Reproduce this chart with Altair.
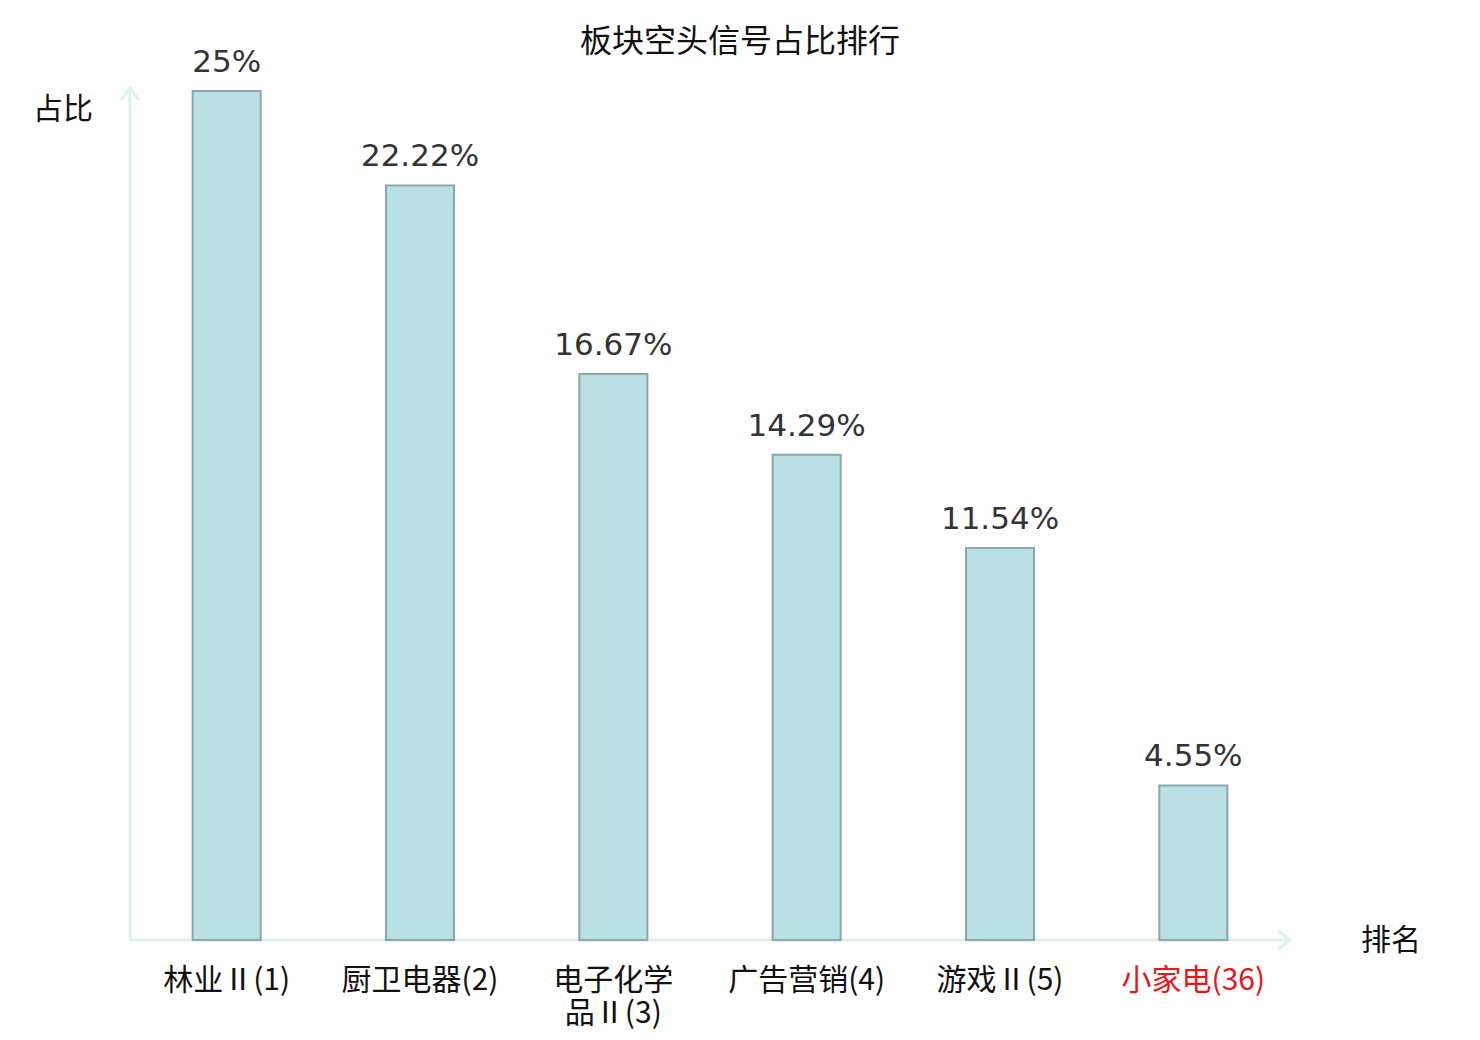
import altair as alt
import pandas as pd

categories = ["林业Ⅱ(1)", "厨卫电器(2)", "电子化学\n品Ⅱ(3)", "广告营销(4)", "游戏Ⅱ(5)", "小家电(36)"]
values = [25, 22.22, 16.67, 14.29, 11.54, 4.55]
value_labels = ["25%", "22.22%", "16.67%", "14.29%", "11.54%", "4.55%"]
highlight = [False, False, False, False, False, True]

title_text = "板块空头信号占比排行"
y_title = "占比"
x_title = "排名"

W, H = 1160, 849
AXIS_COLOR = "#dcf1ee"

df = pd.DataFrame({"cat": categories, "val": values, "lab": value_labels, "hl": highlight})
one = pd.DataFrame({"a": [0]})

xenc = alt.X("cat:N", sort=None, axis=None,
             scale=alt.Scale(paddingInner=0.648, paddingOuter=0.324))
yscale = alt.Scale(domain=[0, 25], nice=False, zero=True)

y_axis_line = alt.Chart(one).mark_rule(color=AXIS_COLOR, strokeWidth=3).encode(
    x=alt.value(0), y=alt.value(-3), y2=alt.value(H))
x_axis_line = alt.Chart(one).mark_rule(color=AXIS_COLOR, strokeWidth=3).encode(
    x=alt.value(0), x2=alt.value(W), y=alt.value(H))
y_arrow = alt.Chart(one).mark_point(shape="M-0.75,1L0,0L0.75,1", filled=False,
                                    stroke=AXIS_COLOR, strokeWidth=3, size=576, opacity=1).encode(
    x=alt.value(0), y=alt.value(-3))
x_arrow = alt.Chart(one).mark_point(shape="M-1,-0.75L0,0L-1,0.75", filled=False,
                                    stroke=AXIS_COLOR, strokeWidth=3, size=576, opacity=1).encode(
    x=alt.value(W), y=alt.value(H))

bars = alt.Chart(df).mark_bar(fill="#bbe0e3", stroke="#8aa7a9", strokeWidth=2).encode(
    x=xenc, y=alt.Y("val:Q", scale=yscale, axis=None))

vlabels = alt.Chart(df).mark_text(font="DejaVu Sans", fontSize=31, color="#333333",
                                  baseline="alphabetic", dy=-19).encode(
    x=xenc, y=alt.Y("val:Q", scale=yscale, axis=None), text="lab:N")

clabels = alt.Chart(df).mark_text(font="Noto Sans CJK SC", fontSize=30, baseline="top",
                                  lineBreak="\n", lineHeight=33).encode(
    x=xenc, y=alt.value(H + 26), text="cat:N",
    color=alt.condition("datum.hl", alt.value("#e8161b"), alt.value("#111111")))

title = alt.Chart(one).mark_text(text=title_text, font="Noto Sans CJK SC", fontSize=32,
                                 color="#111111", baseline="middle").encode(
    x=alt.value(610), y=alt.value(-49))
ytitle = alt.Chart(one).mark_text(text=y_title, font="Noto Sans CJK SC", fontSize=30,
                                  color="#111111", baseline="middle").encode(
    x=alt.value(-67), y=alt.value(19))
xtitle = alt.Chart(one).mark_text(text=x_title, font="Noto Sans CJK SC", fontSize=30,
                                  color="#111111", baseline="middle").encode(
    x=alt.value(1261), y=alt.value(H + 1))

chart = alt.layer(y_axis_line, x_axis_line, y_arrow, x_arrow, bars, vlabels, clabels,
                  title, ytitle, xtitle).properties(
    width=W, height=H,
    autosize=alt.AutoSizeParams(type="none"),
    padding={"left": 122, "top": 83, "right": 175, "bottom": 92},
).configure_view(stroke=None)

chart.save("out.html", embed_options={"renderer": "svg", "actions": False})
